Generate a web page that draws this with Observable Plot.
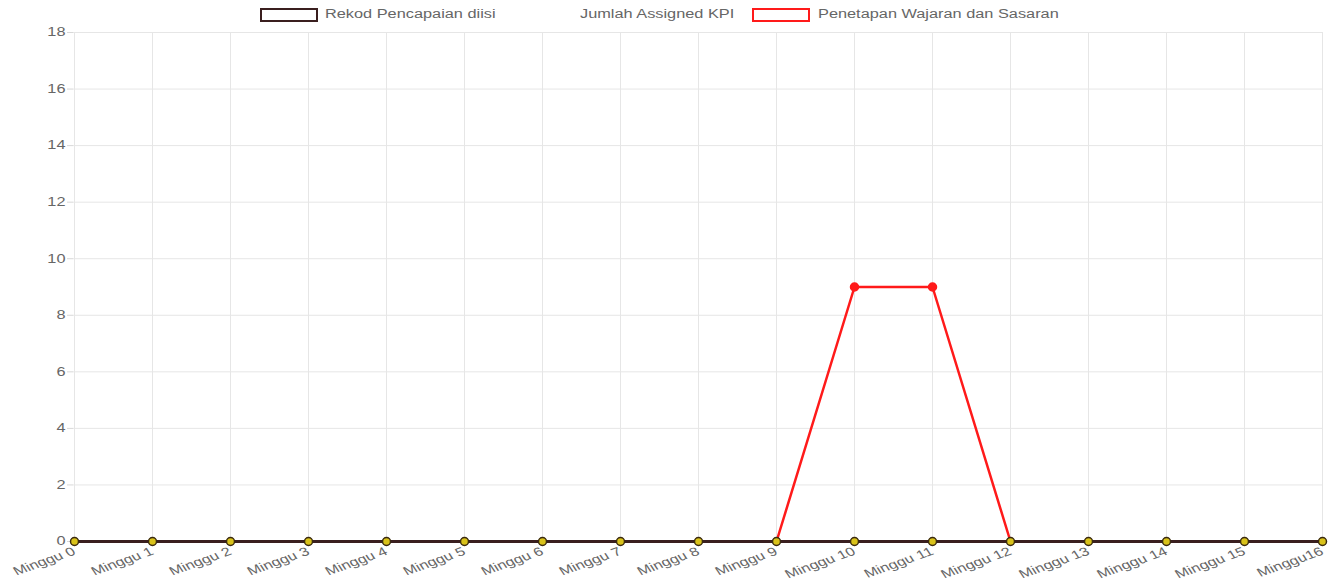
<!DOCTYPE html>
<html>
<head>
<meta charset="utf-8">
<script src="https://cdn.jsdelivr.net/npm/d3@7"></script>
<script src="https://cdn.jsdelivr.net/npm/@observablehq/plot@0.6"></script>
<style>
  html, body { margin: 0; padding: 0; background: #fff; }
  body { width: 1339px; height: 587px; overflow: hidden; font-family: "Liberation Sans", Arial, sans-serif; }
  #legend { position: relative; height: 24px; font-size: 12px; color: #666; }
  .box { position: absolute; top: 0; width: 54px; height: 10px; background: #fff; }
  .lbl { position: absolute; top: 0; white-space: nowrap; display: inline-block; transform: scaleX(1.36); transform-origin: left center; }
</style>
</head>
<body>
<div id="legend"></div>
<div id="chart"></div>
<script>
const weeks = ["Minggu 0","Minggu 1","Minggu 2","Minggu 3","Minggu 4","Minggu 5","Minggu 6","Minggu 7","Minggu 8","Minggu 9","Minggu 10","Minggu 11","Minggu 12","Minggu 13","Minggu 14","Minggu 15","Minggu16"];
const rekod = [0,0,0,0,0,0,0,0,0,0,0,0,0,0,0,0,0];
const jumlah = [0,0,0,0,0,0,0,0,0,0,0,0,0,0,0,0,0];
const penetapan = [0,0,0,0,0,0,0,0,0,0,9,9,0,0,0,0,0];
const yTicks = [0,2,4,6,8,10,12,14,16,18];
const seriesNames = ["Rekod Pencapaian diisi", "Jumlah Assigned KPI", "Penetapan Wajaran dan Sasaran"];

const rekodData = weeks.map((w, i) => ({week: w, value: rekod[i]}));
const penData = weeks.map((w, i) => ({week: w, value: penetapan[i]}));
const penPeaks = penData.filter(d => d.value > 0);

// legend
const legend = document.getElementById("legend");
const legendSpec = [
  {name: seriesNames[0], boxLeft: 260, textLeft: 325, border: "2px solid #3a1f1f"},
  {name: seriesNames[1], boxLeft: null, textLeft: 580, border: null},
  {name: seriesNames[2], boxLeft: 752, textLeft: 818, border: "2px solid #ff1a1a"}
];
for (const s of legendSpec) {
  if (s.border) {
    const b = document.createElement("div");
    b.className = "box";
    b.style.border = s.border;
    b.style.left = s.boxLeft + "px";
    b.style.top = "8px";
    legend.appendChild(b);
  }
  const t = document.createElement("span");
  t.className = "lbl";
  t.textContent = s.name;
  t.style.left = s.textLeft + "px";
  t.style.top = "7px";
  legend.appendChild(t);
}

const chart = Plot.plot({
  width: 1339,
  height: 563,
  marginTop: 8,
  marginBottom: 46,
  marginLeft: 73,
  marginRight: 17,
  style: {fontFamily: "Liberation Sans, Arial, sans-serif", fontSize: "12px", color: "#666", background: "#fff"},
  x: {type: "point", domain: weeks, padding: 0, label: null},
  y: {domain: [0, 18], label: null},
  marks: [
    Plot.gridY(yTicks, {stroke: "#e6e6e6", strokeOpacity: 1, strokeWidth: 1}),
    Plot.gridX(weeks, {stroke: "#e6e6e6", strokeOpacity: 1, strokeWidth: 1}),
    Plot.axisY(yTicks, {tickSize: 6, tickPadding: 2, stroke: "#d8d8d8", fill: "#666", fontSize: 12}),
    Plot.axisX(weeks, {tickSize: 0, tickPadding: 6, tickRotate: -26, fill: "#666", fontSize: 12, textAnchor: "end", dx: 0, dy: 3}),
    Plot.line(penData, {x: "week", y: "value", stroke: "#ff1a1a", strokeWidth: 2.5}),
    Plot.dot(penPeaks, {x: "week", y: "value", r: 4, fill: "#ff1a1a", stroke: "#ff1a1a"}),
    Plot.line(rekodData, {x: "week", y: "value", stroke: "#3a1f1f", strokeWidth: 3}),
    Plot.dot(rekodData, {x: "week", y: "value", r: 4, fill: "#d9c21a", stroke: "#3a2a10", strokeWidth: 1.5})
  ]
});
document.getElementById("chart").appendChild(chart);

// stretch text horizontally about its anchor point (matches the reference's wide lettering)
const S = 1.36;
chart.querySelectorAll("text").forEach(t => {
  const x = parseFloat(t.getAttribute("x")) || 0;
  const y = parseFloat(t.getAttribute("y")) || 0;
  const tr = t.getAttribute("transform") || "";
  let px = x, py = y;
  const c = t.transform.baseVal.consolidate();
  if (c) {
    const m = c.matrix;
    px = m.a * x + m.c * y + m.e;
    py = m.b * x + m.d * y + m.f;
  }
  t.setAttribute("transform", `translate(${px},${py}) scale(${S},1) translate(${-px},${-py}) ${tr}`);
});
</script>
</body>
</html>
